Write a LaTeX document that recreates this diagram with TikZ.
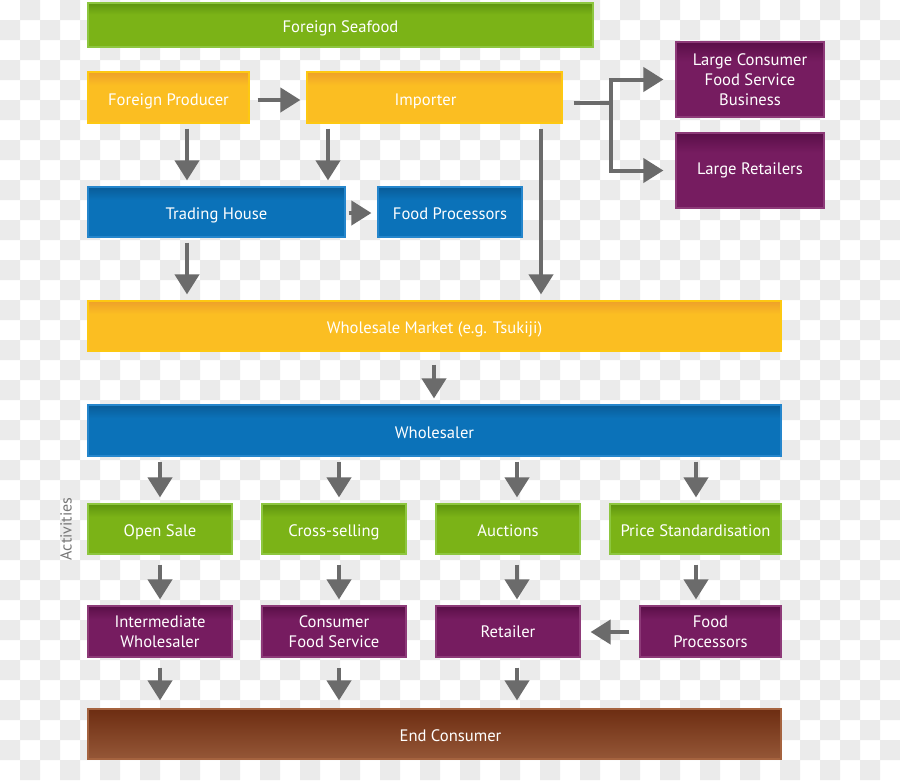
\documentclass[tikz,border=0pt]{standalone}
\usepackage{fontspec}
\setmainfont{PT Sans}
\usetikzlibrary{arrows.meta,calc}
\definecolor{chk}{HTML}{EBEBEB}
\definecolor{arrgray}{HTML}{6B6B6B}
\definecolor{gmain}{HTML}{7BB317}
\definecolor{gtop}{HTML}{5E940F}
\definecolor{gborder}{HTML}{8DC63F}
\definecolor{ymain}{HTML}{FBBE22}
\definecolor{ytop}{HTML}{EEA02A}
\definecolor{yborder}{HTML}{FDC812}
\definecolor{bmain}{HTML}{0B72B9}
\definecolor{btop}{HTML}{095C98}
\definecolor{bborder}{HTML}{2586CC}
\definecolor{pmain}{HTML}{761C60}
\definecolor{ptop}{HTML}{5A0F48}
\definecolor{pborder}{HTML}{8D3A78}
\definecolor{rtop}{HTML}{6D2D12}
\definecolor{rmain}{HTML}{955737}
\definecolor{rborder}{HTML}{A5633F}
\definecolor{acttext}{HTML}{777777}
\pgfdeclareverticalshading{gsh}{100bp}{color(0bp)=(gmain); color(25bp)=(gmain); color(62bp)=(gmain); color(75bp)=(gtop); color(100bp)=(gtop)}
\pgfdeclareverticalshading{ysh}{100bp}{color(0bp)=(ymain); color(25bp)=(ymain); color(62bp)=(ymain); color(75bp)=(ytop); color(100bp)=(ytop)}
\pgfdeclareverticalshading{bsh}{100bp}{color(0bp)=(bmain); color(25bp)=(bmain); color(62bp)=(bmain); color(75bp)=(btop); color(100bp)=(btop)}
\pgfdeclareverticalshading{psh}{100bp}{color(0bp)=(pmain); color(25bp)=(pmain); color(62bp)=(pmain); color(75bp)=(ptop); color(100bp)=(ptop)}
\pgfdeclareverticalshading{rsh}{100bp}{color(0bp)=(rmain); color(25bp)=(rmain); color(75bp)=(rtop); color(100bp)=(rtop)}
\tikzset{
  bx/.style={draw=#1border, line width=1.2pt, shading=#1sh, text=white,
    font=\fontsize{16.6}{20}\selectfont, align=center, inner sep=0pt},
  one/.style={text height=15pt, text depth=0pt},
  sz/.style 2 args={minimum width=#1pt, minimum height=#2pt},
  arr/.style={draw=arrgray, line width=4pt, -{Triangle[width=24pt,length=20pt]},
    shorten <=5pt, shorten >=6pt},
  arrline/.style={draw=arrgray, line width=4pt},
}
\begin{document}
\begin{tikzpicture}[x=1pt,y=-1pt]
\useasboundingbox (0,0) rectangle (900,780);
% transparency checker background
\fill[white] (0,0) rectangle (900,780);
\fill[chk] \foreach \j in {0,2,...,38} { \foreach \i in {1,3,...,43} { (\i*20,\j*20) rectangle ++(20,20) } };
\fill[chk] \foreach \j in {1,3,...,37} { \foreach \i in {0,2,...,44} { (\i*20,\j*20) rectangle ++(20,20) } };

% nodes
\node[bx=g, one, sz={505}{44}] (seafood) at (340.5,25) {Foreign Seafood};
\node[bx=y, one, sz={161}{51}] (producer) at (168.5,97.5) {Foreign Producer};
\node[bx=y, one, sz={255}{51}] (importer) at (434.5,97.5) {\hspace*{-18pt}Importer};
\node[bx=p, sz={148}{75}] (lcfs) at (750,79.5) {Large Consumer\\Food Service\\Business};
\node[bx=p, sz={148}{75}] (lret) at (750,170.5) {Large Retailers};
\node[bx=b, one, sz={257}{50}] (trading) at (216.5,212) {Trading House};
\node[bx=b, one, sz={144}{50}] (fproc1) at (450,212) {Food Processors};
\node[bx=y, one, sz={693}{50}] (market) at (434.5,326) {Wholesale Market (e.g. Tsukiji)};
\node[bx=b, one, sz={693}{51}] (wholesaler) at (434.5,430.5) {Wholesaler};
\node[bx=g, one, sz={144}{50}] (open) at (160,529) {Open Sale};
\node[bx=g, one, sz={144}{50}] (cross) at (334,529) {Cross-selling};
\node[bx=g, one, sz={144}{50}] (auct) at (508,529) {Auctions};
\node[bx=g, one, sz={171}{50}] (price) at (695.5,529) {Price Standardisation};
\node[bx=p, sz={144}{51}] (inter) at (160,631.5) {Intermediate\\Wholesaler};
\node[bx=p, sz={144}{51}] (cfs) at (334,631.5) {Consumer\\Food Service};
\node[bx=p, sz={144}{51}] (retailer) at (508,631.5) {Retailer};
\node[bx=p, sz={141}{51}] (fproc2) at (710.5,631.5) {Food\\Processors};
\node[bx=r, one, sz={693}{50}] (endc) at (434.5,734) {\hspace*{32pt}End Consumer};
\node[rotate=90, text=acttext, font=\fontsize{16}{18}\selectfont] (act) at (66,529) {Activities};

% x positions of vertical arrows
\coordinate (xa) at (187,0);
\coordinate (xb) at (328,0);
\coordinate (xc) at (541,0);
\coordinate (xd) at (434,0);
\coordinate (x1) at (160,0);
\coordinate (x2) at (339,0);
\coordinate (x3) at (517,0);
\coordinate (x4) at (696,0);
\coordinate (br) at (611,103);

% connectors
\draw[arr, shorten <=8pt] ($(producer.east)+(0,2.5)$) -- ($(importer.west)+(0,2.5)$);
\draw[arr] (producer.south -| xa) -- (trading.north -| xa);
\draw[arr] (importer.south -| xb) -- (trading.north -| xb);
\draw[arr] (importer.south -| xc) -- (market.north -| xc);
\draw[arrline] ($(importer.east)+(11,5.5)$) -- (br);
\draw[arr, shorten <=0pt, shorten >=12pt] (br) |- (lcfs.west);
\draw[arr, shorten <=0pt, shorten >=12pt] (br) |- (lret.west);
\draw[arr, shorten <=3pt] ($(trading.east)+(0,1)$) -- ($(fproc1.west)+(0,1)$);
\draw[arr] (trading.south -| xa) -- (market.north -| xa);
\draw[arr, shorten <=13pt] (market.south -| xd) -- (wholesaler.north -| xd);
\draw[arr] (wholesaler.south -| x1) -- (open.north -| x1);
\draw[arr] (wholesaler.south -| x2) -- (cross.north -| x2);
\draw[arr] (wholesaler.south -| x3) -- (auct.north -| x3);
\draw[arr] (wholesaler.south -| x4) -- (price.north -| x4);
\draw[arr, shorten <=10pt] (open.south -| x1) -- (inter.north -| x1);
\draw[arr, shorten <=10pt] (cross.south -| x2) -- (cfs.north -| x2);
\draw[arr, shorten <=10pt] (auct.south -| x3) -- (retailer.north -| x3);
\draw[arr, shorten <=10pt] (price.south -| x4) -- (fproc2.north -| x4);
\draw[arr, shorten <=10pt, shorten >=10pt] ($(fproc2.west)+(0,0.5)$) -- ($(retailer.east)+(0,0.5)$);
\draw[arr, shorten <=10pt, shorten >=8pt] (inter.south -| x1) -- (endc.north -| x1);
\draw[arr, shorten <=10pt, shorten >=8pt] (cfs.south -| x2) -- (endc.north -| x2);
\draw[arr, shorten <=10pt, shorten >=8pt] (retailer.south -| x3) -- (endc.north -| x3);
\end{tikzpicture}
\end{document}
